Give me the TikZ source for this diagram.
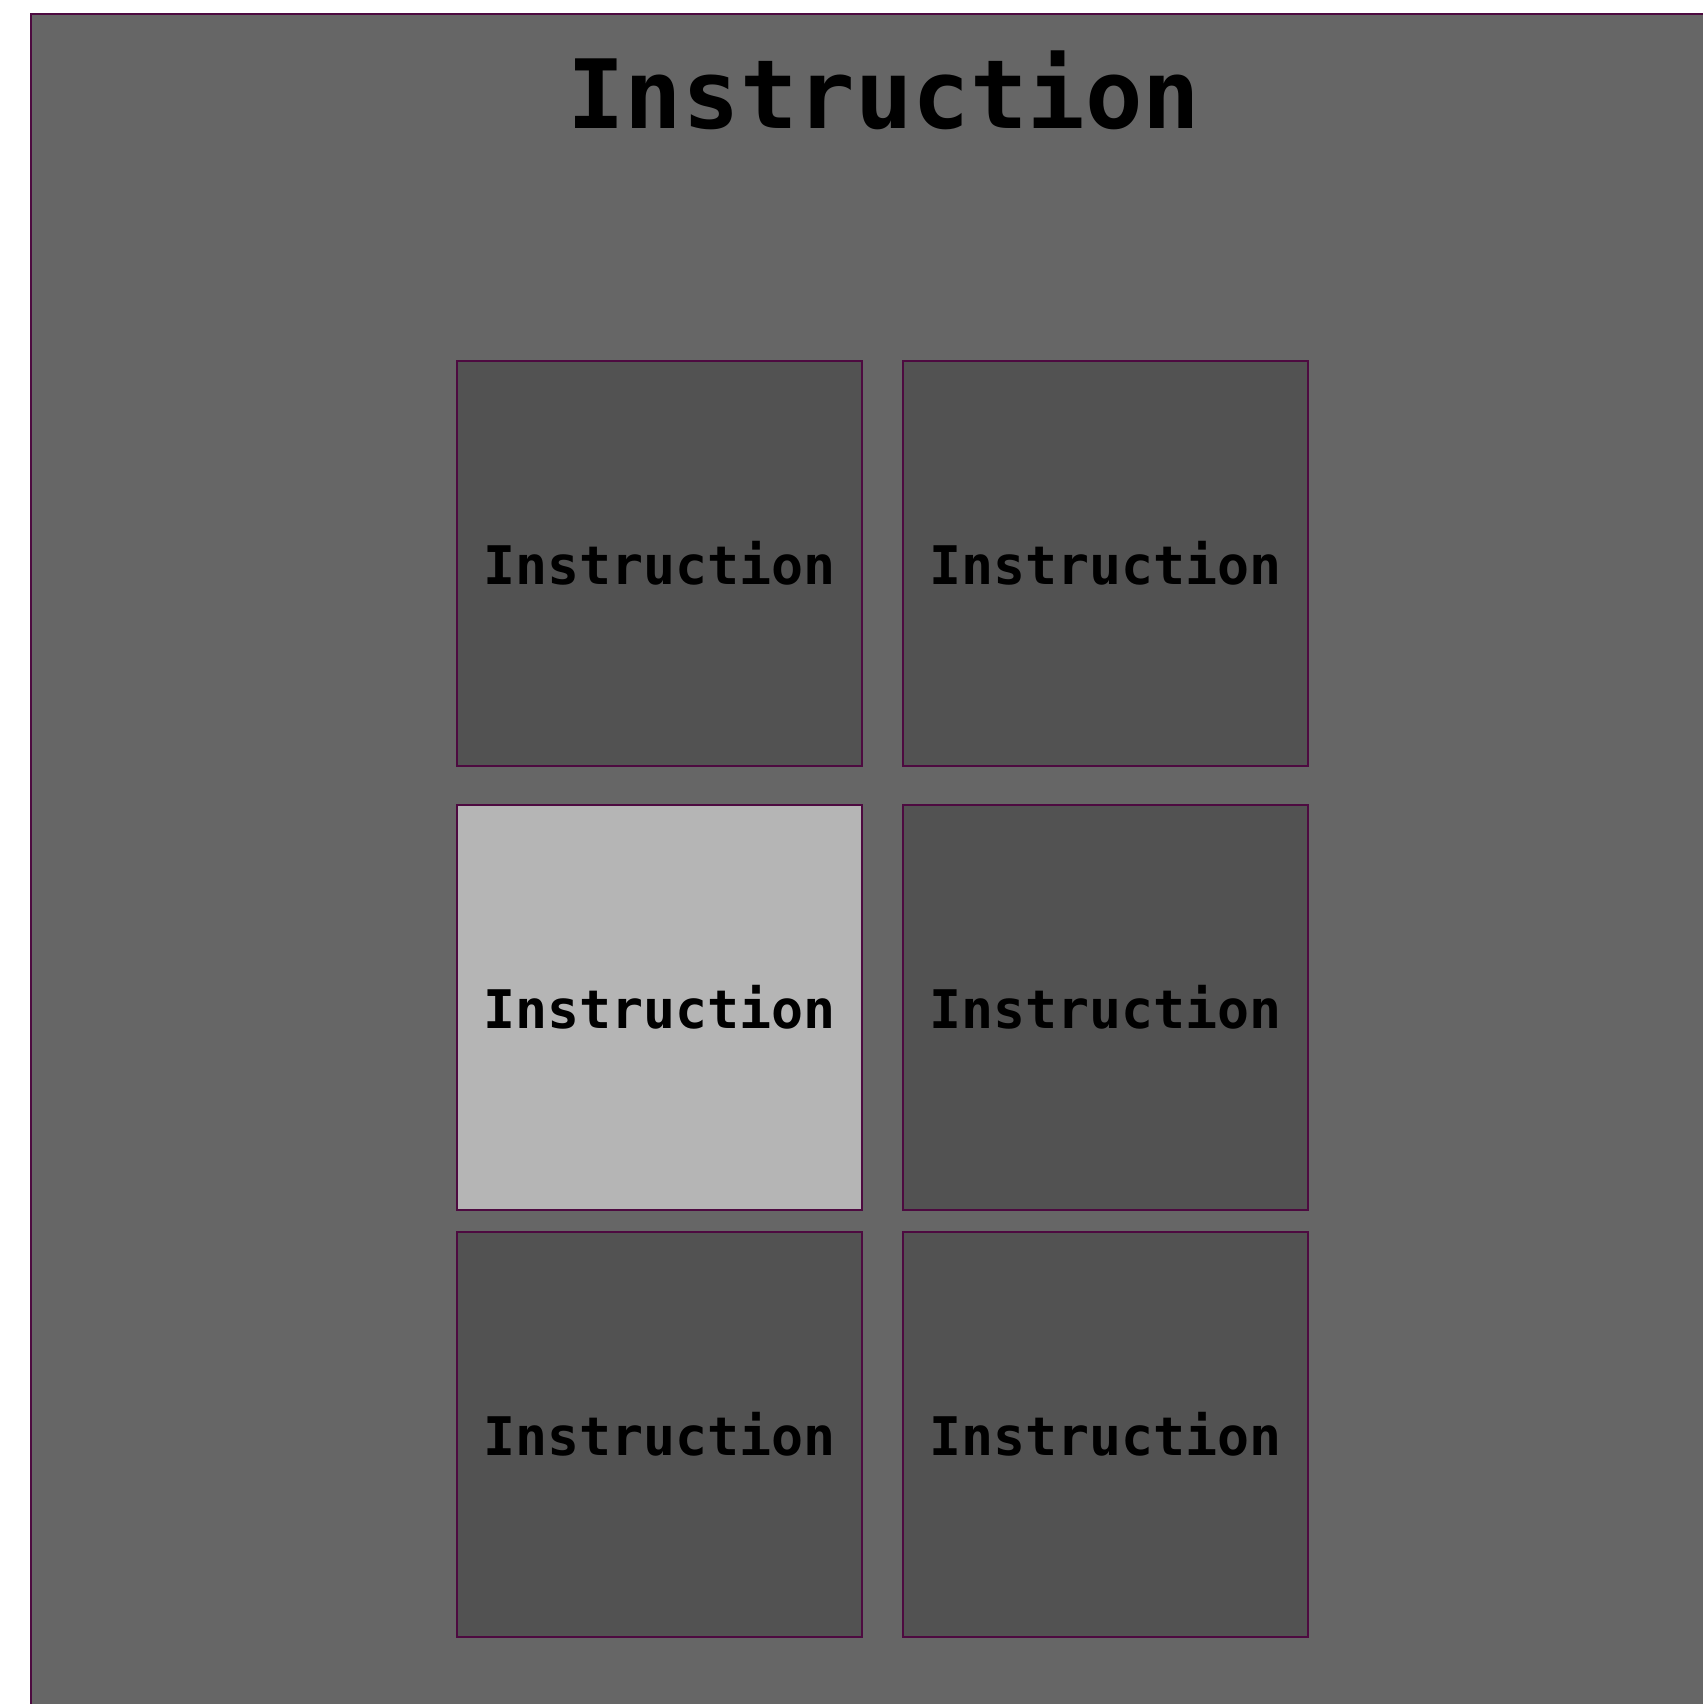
\documentclass[tikz,border=0pt]{standalone}
\usepackage{fontspec}
\setmonofont{DejaVu Sans Mono}
\usepackage{xcolor}
\usepackage{tikz}
\definecolor{frameline}{RGB}{77,10,64}
\definecolor{outerfill}{RGB}{102,102,102}
\definecolor{cellfill}{RGB}{82,82,82}
\definecolor{cellhigh}{RGB}{181,181,181}
\tikzset{
  cell/.style={draw=frameline,line width=0.75pt,fill=cellfill,minimum width=202.5pt,minimum height=202.5pt,inner sep=0pt,
    font=\ttfamily\bfseries\fontsize{26.6}{30}\selectfont},
}
\newcommand{\instrcell}[4]{%
  \node[cell,fill=#4] (#1) at (#2,#3) {Instruction};%
}

\begin{document}
\begin{tikzpicture}[x=0.5pt,y=-0.5pt]
  \useasboundingbox (0,0) rectangle (1703,1704);
  \clip (0,0) rectangle (1703,1704);
  \fill[white] (0,0) rectangle (1703,1704);
  \draw[frameline,line width=0.75pt,fill=outerfill] (31,14) rectangle (1760,1760);
  \node[font=\ttfamily\bfseries\fontsize{47.8}{56}\selectfont,anchor=base] (title) at (884,128) {Instruction};
  \instrcell{c11}{659.5}{563.5}{cellfill}
  \instrcell{c12}{1105.5}{563.5}{cellfill}
  \instrcell{c21}{659.5}{1007.5}{cellhigh}
  \instrcell{c22}{1105.5}{1007.5}{cellfill}
  \instrcell{c31}{659.5}{1434.5}{cellfill}
  \instrcell{c32}{1105.5}{1434.5}{cellfill}
\end{tikzpicture}
\end{document}
